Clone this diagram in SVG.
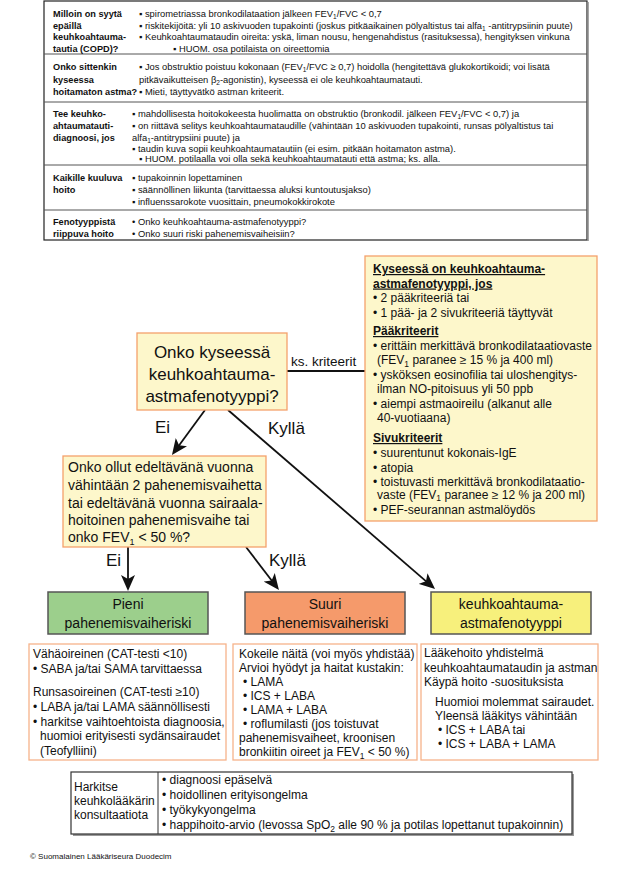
<svg xmlns="http://www.w3.org/2000/svg" width="629" height="870" viewBox="0 0 629 870">
<style>
text{font-family:"Liberation Sans",Arial,Helvetica,sans-serif;fill:#111}
.t{font-size:9.4px}
.tb{font-size:9.2px;font-weight:bold}
.c{font-size:12px}
.ch{font-size:12px;font-weight:bold;text-decoration:underline}
.q{font-size:14px}
.big{font-size:17px}
.lbl{font-size:17px}
.ks{font-size:13.5px}
.box{font-size:14px;text-anchor:middle}
.y{fill:#FDF7CB;stroke:#F4A16C;stroke-width:1.3}
.w{fill:#fff;stroke:#F6B38A;stroke-width:1.3}
.cat{stroke:#555;stroke-width:1.5}
.arr{stroke:#111;stroke-width:1.8;fill:none}
.sep{stroke:#555;stroke-width:1}
</style>
<defs>
<marker id="ah" markerUnits="userSpaceOnUse" markerWidth="17" markerHeight="14" refX="10" refY="7" orient="auto">
<path d="M0,0 L16,7 L0,14 L4,7 z" fill="#111"/>
</marker>
</defs>
<rect width="629" height="870" fill="#fff"/>

<g id="top-table">
<rect x="44" y="1" width="543" height="239" fill="#fff" stroke="#222" stroke-width="1.2"/>
<line x1="588" y1="2" x2="588" y2="241" stroke="#888" stroke-width="1.5"/>
<line class="sep" x1="44" y1="54" x2="587" y2="54" stroke="#222"/>
<line class="sep" x1="44" y1="102" x2="587" y2="102" stroke="#222"/>
<line class="sep" x1="44" y1="165" x2="587" y2="165"/>
<line class="sep" x1="44" y1="210" x2="587" y2="210" stroke="#777"/>
<g id="row1">
<text class="tb" x="53" y="17">Milloin on syytä</text>
<text class="tb" x="53" y="28.5">epäillä</text>
<text class="tb" x="53" y="40">keuhkoahtauma-</text>
<text class="tb" x="53" y="51.5">tautia (COPD)?</text>
<text class="t" x="139" y="17">▪ spirometriassa bronkodilataation jälkeen FEV<tspan font-size="6.5" dy="2">1</tspan><tspan dy="-2">/FVC &lt; 0,7</tspan></text>
<text class="t" x="139" y="28.5">▪ riskitekijöitä: yli 10 askivuoden tupakointi (joskus pitkäaikainen pölyaltistus tai alfa<tspan font-size="6.5" dy="2">1</tspan><tspan dy="-2"> -antitrypsiinin puute)</tspan></text>
<text class="t" x="139" y="40">▪ Keuhkoahtaumataudin oireita: yskä, liman nousu, hengenahdistus (rasituksessa), hengityksen vinkuna</text>
<text class="t" x="173" y="51.5">▪ HUOM. osa potilaista on oireettomia</text>
</g>
<g id="row2">
<text class="tb" x="53" y="70">Onko sittenkin</text>
<text class="tb" x="53" y="82.5">kyseessa</text>
<text class="tb" x="53" y="95">hoitamaton astma?</text>
<text class="t" x="139" y="70">▪ Jos obstruktio poistuu kokonaan (FEV<tspan font-size="6.5" dy="2">1</tspan><tspan dy="-2">/FVC ≥ 0,7) hoidolla (hengitettävä glukokortikoidi; voi lisätä</tspan></text>
<text class="t" x="139" y="82.5">pitkävaikutteisen β<tspan font-size="6.5" dy="2">2</tspan><tspan dy="-2">-agonistin), kyseessä ei ole keuhkoahtaumatauti.</tspan></text>
<text class="t" x="139" y="95">▪ Mieti, täyttyvätkö astman kriteerit.</text>
</g>
<g id="row3">
<text class="tb" x="53" y="116.5">Tee keuhko-</text>
<text class="tb" x="53" y="128.5">ahtaumatauti-</text>
<text class="tb" x="53" y="140.5">diagnoosi, jos</text>
<text class="t" x="132" y="116.5">▪ mahdollisesta hoitokokeesta huolimatta on obstruktio (bronkodil. jälkeen FEV<tspan font-size="6.5" dy="2">1</tspan><tspan dy="-2">/FVC &lt; 0,7) ja</tspan></text>
<text class="t" x="132" y="128.5">▪ on riittävä selitys keuhkoahtaumataudille (vähintään 10 askivuoden tupakointi, runsas pölyaltistus tai</text>
<text class="t" x="132" y="140.5">alfa<tspan font-size="6.5" dy="2">1</tspan><tspan dy="-2">-antitrypsiini puute) ja</tspan></text>
<text class="t" x="132" y="151.5">▪ taudin kuva sopii keuhkoahtaumatautiin (ei esim. pitkään hoitamaton astma).</text>
<text class="t" x="139" y="162">▪ HUOM. potilaalla voi olla sekä keuhkoahtaumatauti että astma; ks. alla.</text>
</g>
<g id="row4">
<text class="tb" x="53" y="181">Kaikille kuuluva</text>
<text class="tb" x="53" y="193">hoito</text>
<text class="t" x="132" y="181">▪ tupakoinnin lopettaminen</text>
<text class="t" x="132" y="193">▪ säännöllinen liikunta (tarvittaessa aluksi kuntoutusjakso)</text>
<text class="t" x="132" y="205">▪ influenssarokote vuosittain, pneumokokkirokote</text>
</g>
<g id="row5">
<text class="tb" x="53" y="225">Fenotyyppistä</text>
<text class="tb" x="53" y="236.5">riippuva hoito</text>
<text class="t" x="132" y="225">• Onko keuhkoahtauma-astmafenotyyppi?</text>
<text class="t" x="132" y="236.5">• Onko suuri riski pahenemisvaiheisiin?</text>
</g>
</g>

<g id="connectors">
<line class="arr" x1="287" y1="371" x2="365" y2="371"/>
<line class="arr" x1="205" y1="410" x2="175.5" y2="450.2" marker-end="url(#ah)"/>
<line class="arr" x1="228" y1="410" x2="430.5" y2="585.1" marker-end="url(#ah)"/>
<line class="arr" x1="128" y1="547" x2="128" y2="585" marker-end="url(#ah)"/>
<line class="arr" x1="246" y1="547" x2="275.3" y2="585.2" marker-end="url(#ah)"/>
<text class="ks" x="291" y="366">ks. kriteerit</text>
<text class="lbl" x="155" y="433">Ei</text>
<text class="lbl" x="268" y="434">Kyllä</text>
<text class="lbl" x="106" y="566">Ei</text>
<text class="lbl" x="269" y="566">Kyllä</text>
</g>

<g id="criteria">
<rect class="y" x="365" y="256" width="232" height="265"/>
<text class="ch" x="373" y="273">Kyseessä on keuhkoahtauma-</text>
<text class="ch" x="373" y="287.5">astmafenotyyppi, jos</text>
<text class="c" x="373" y="302">• 2 pääkriteeriä tai</text>
<text class="c" x="373" y="316.5">• 1 pää- ja 2 sivukriteeriä täyttyvät</text>
<text class="ch" x="373" y="335">Pääkriteerit</text>
<text class="c" x="373" y="350">• erittäin merkittävä bronkodilataatiovaste</text>
<text class="c" x="377" y="364">(FEV<tspan font-size="8.5" dy="2.5">1</tspan><tspan dy="-2.5"> paranee ≥ 15 % ja 400 ml)</tspan></text>
<text class="c" x="373" y="379">• ysköksen eosinofilia tai uloshengitys-</text>
<text class="c" x="377" y="393">ilman NO-pitoisuus yli 50 ppb</text>
<text class="c" x="373" y="408">• aiempi astmaoireilu (alkanut alle</text>
<text class="c" x="377" y="422">40-vuotiaana)</text>
<text class="ch" x="373" y="442">Sivukriteerit</text>
<text class="c" x="373" y="457">• suurentunut kokonais-IgE</text>
<text class="c" x="373" y="471.5">• atopia</text>
<text class="c" x="373" y="485.5">• toistuvasti merkittävä bronkodilataatio-</text>
<text class="c" x="377" y="499">vaste  (FEV<tspan font-size="8.5" dy="2">1</tspan><tspan dy="-2"> paranee ≥ 12 % ja 200 ml)</tspan></text>
<text class="c" x="373" y="514">• PEF-seurannan astmalöydös</text>
</g>

<g id="q-phenotype">
<rect class="y" x="137" y="333" width="150" height="77"/>
<text class="big" x="212" y="358" text-anchor="middle">Onko kyseessä</text>
<text class="big" x="212" y="380" text-anchor="middle">keuhkoahtauma-</text>
<text class="big" x="212" y="402" text-anchor="middle">astmafenotyyppi?</text>
</g>

<g id="q-exacerbation">
<rect class="y" x="63" y="456" width="203" height="91"/>
<text class="q" x="68" y="472">Onko ollut edeltävänä vuonna</text>
<text class="q" x="68" y="490">vähintään 2 pahenemisvaihetta</text>
<text class="q" x="68" y="507.5">tai edeltävänä vuonna sairaala-</text>
<text class="q" x="68" y="525">hoitoinen pahenemisvaihe tai</text>
<text class="q" x="68" y="542">onko FEV<tspan font-size="9" dy="3">1</tspan><tspan dy="-3"> &lt; 50 %?</tspan></text>
</g>

<g id="low-risk">
<rect class="cat" x="48" y="592" width="160" height="42" fill="#9CCF8C"/>
<text class="box" x="128" y="609">Pieni</text>
<text class="box" x="128" y="628">pahenemisvaiheriski</text>
</g>
<g id="high-risk">
<rect class="cat" x="245" y="592" width="160" height="42" fill="#F59A6B"/>
<text class="box" x="325" y="609">Suuri</text>
<text class="box" x="325" y="628">pahenemisvaiheriski</text>
</g>
<g id="acos">
<rect class="cat" x="431" y="592" width="160" height="42" fill="#F7F07C"/>
<text class="box" x="511" y="609">keuhkoahtauma-</text>
<text class="box" x="511" y="628">astmafenotyyppi</text>
</g>

<g id="low-risk-care">
<rect class="w" x="29" y="644" width="197" height="116"/>
<text class="c" x="33" y="658">Vähäoireinen (CAT-testi &lt;10)</text>
<text class="c" x="33" y="673">• SABA ja/tai SAMA tarvittaessa</text>
<text class="c" x="33" y="696">Runsasoireinen (CAT-testi ≥10)</text>
<text class="c" x="33" y="711">• LABA ja/tai LAMA säännöllisesti</text>
<text class="c" x="33" y="725.5">• harkitse vaihtoehtoista diagnoosia,</text>
<text class="c" x="40" y="740">huomioi erityisesti sydänsairaudet</text>
<text class="c" x="40" y="754.5">(Teofylliini)</text>
</g>
<g id="high-risk-care">
<rect class="w" x="233" y="644" width="184" height="116"/>
<text class="c" x="239" y="658">Kokeile näitä (voi myös yhdistää)</text>
<text class="c" x="239" y="672">Arvioi hyödyt ja haitat kustakin:</text>
<text class="c" x="243" y="686">• LAMA</text>
<text class="c" x="243" y="700">• ICS + LABA</text>
<text class="c" x="243" y="714">• LAMA + LABA</text>
<text class="c" x="243" y="728">• roflumilasti (jos toistuvat</text>
<text class="c" x="239" y="742">pahenemisvaiheet, kroonisen</text>
<text class="c" x="239" y="756">bronkiitin oireet ja FEV<tspan font-size="8.5" dy="3">1</tspan><tspan dy="-3"> &lt; 50 %)</tspan></text>
</g>
<g id="acos-care">
<rect class="w" x="421" y="644" width="177" height="116"/>
<text class="c" x="424" y="657">Lääkehoito yhdistelmä</text>
<text class="c" x="424" y="672">keuhkoahtaumataudin ja astman</text>
<text class="c" x="424" y="686">Käypä hoito -suosituksista</text>
<text class="c" x="435" y="706">Huomioi molemmat sairaudet.</text>
<text class="c" x="435" y="720">Yleensä lääkitys vähintään</text>
<text class="c" x="438" y="734">• ICS + LABA tai</text>
<text class="c" x="438" y="748">• ICS + LABA + LAMA</text>
</g>

<g id="consult">
<rect x="73" y="774" width="501" height="62" fill="#999"/>
<rect x="71" y="772" width="501" height="62" fill="#fff" stroke="#333" stroke-width="1.2"/>
<line x1="158" y1="772" x2="158" y2="834" stroke="#333" stroke-width="1"/>
<text class="c" x="74" y="791">Harkitse</text>
<text class="c" x="74" y="805">keuhkolääkärin</text>
<text class="c" x="74" y="819">konsultaatiota</text>
<text class="c" x="162" y="784">• diagnoosi epäselvä</text>
<text class="c" x="162" y="799">• hoidollinen erityisongelma</text>
<text class="c" x="162" y="813.5">• työkykyongelma</text>
<text class="c" x="162" y="828.5">• happihoito-arvio (levossa SpO<tspan font-size="8.5" dy="3">2</tspan><tspan dy="-3"> alle 90 % ja potilas lopettanut tupakoinnin)</tspan></text>
</g>

<text x="30" y="859" font-size="8px">© Suomalainen Lääkäriseura Duodecim</text>
</svg>
